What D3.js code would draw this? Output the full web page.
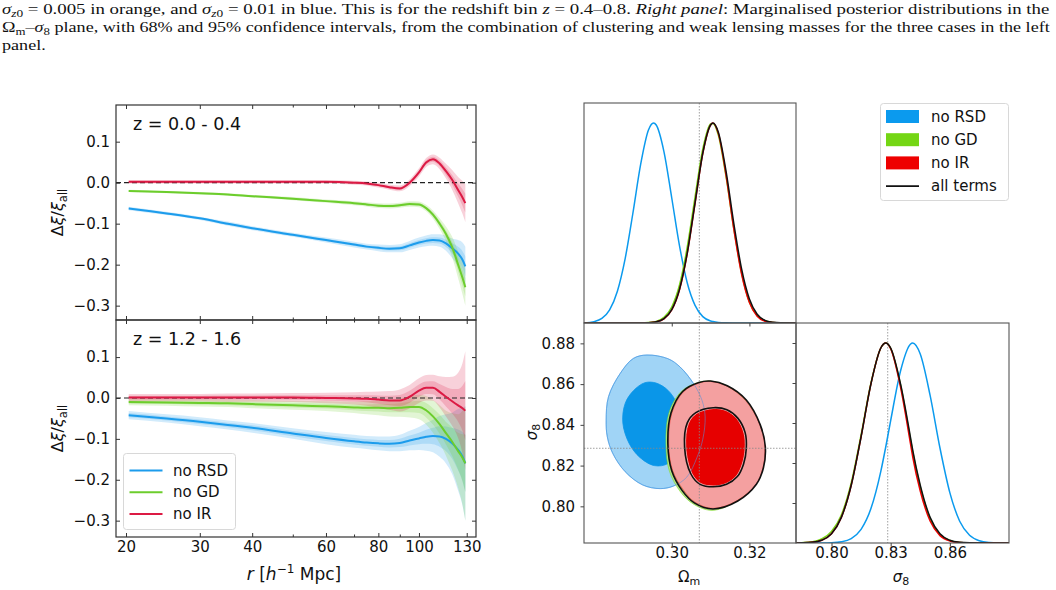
<!DOCTYPE html>
<html>
<head>
<meta charset="utf-8">
<script src="https://cdn.jsdelivr.net/npm/d3@7"></script>
<style>
  body { margin: 0; background: #fff; }
  svg { display: block; }
</style>
</head>
<body>
<div id="chart"></div>
<script>
// ---- left panels: fractional change of xi vs r ----
var rGrid = [20.3, 25, 30, 35, 40, 50, 60, 70, 75, 80, 85, 90, 95, 100, 104, 108, 112, 116, 120, 124, 127, 129];

var topBlue = [-0.063, -0.075, -0.087, -0.100, -0.111, -0.127, -0.140, -0.151, -0.156, -0.159, -0.161, -0.160, -0.153, -0.146, -0.142, -0.140, -0.141, -0.148, -0.160, -0.173, -0.188, -0.204];
var topBlueErr = [0.004, 0.004, 0.004, 0.005, 0.005, 0.005, 0.006, 0.007, 0.007, 0.008, 0.009, 0.010, 0.011, 0.012, 0.013, 0.014, 0.015, 0.018, 0.024, 0.033, 0.042, 0.048];
var topGreen = [-0.020, -0.023, -0.026, -0.029, -0.033, -0.039, -0.045, -0.050, -0.053, -0.056, -0.057, -0.055, -0.052, -0.053, -0.062, -0.078, -0.100, -0.125, -0.157, -0.200, -0.232, -0.255];
var topGreenErr = [0.003, 0.003, 0.003, 0.003, 0.003, 0.004, 0.004, 0.005, 0.005, 0.006, 0.006, 0.006, 0.007, 0.007, 0.008, 0.010, 0.013, 0.018, 0.025, 0.033, 0.040, 0.045];
var topRed = [0.002, 0.002, 0.002, 0.002, 0.002, 0.002, 0.002, 0.000, -0.002, -0.006, -0.011, -0.014, 0.000, 0.025, 0.049, 0.057, 0.047, 0.028, 0.007, -0.018, -0.036, -0.050];
var topRedErr = [0.004, 0.004, 0.004, 0.004, 0.004, 0.004, 0.004, 0.005, 0.005, 0.006, 0.006, 0.007, 0.008, 0.010, 0.011, 0.012, 0.014, 0.018, 0.024, 0.032, 0.040, 0.046];

var botBlue = [-0.042, -0.050, -0.058, -0.066, -0.073, -0.087, -0.098, -0.106, -0.109, -0.111, -0.112, -0.110, -0.104, -0.099, -0.095, -0.093, -0.094, -0.100, -0.111, -0.127, -0.143, -0.160];
var botBlueErr = [0.010, 0.010, 0.011, 0.011, 0.012, 0.013, 0.015, 0.016, 0.016, 0.017, 0.018, 0.020, 0.024, 0.028, 0.034, 0.040, 0.050, 0.060, 0.075, 0.100, 0.120, 0.140];
var botGreen = [-0.010, -0.011, -0.012, -0.013, -0.015, -0.018, -0.020, -0.023, -0.024, -0.024, -0.025, -0.024, -0.022, -0.022, -0.030, -0.045, -0.064, -0.086, -0.107, -0.130, -0.146, -0.160];
var botGreenErr = [0.008, 0.008, 0.009, 0.009, 0.010, 0.011, 0.012, 0.014, 0.016, 0.018, 0.020, 0.022, 0.026, 0.030, 0.035, 0.040, 0.047, 0.055, 0.070, 0.090, 0.115, 0.140];
var botRed = [0.001, 0.001, 0.001, 0.001, 0.001, 0.001, 0.000, -0.001, -0.002, -0.004, -0.006, -0.006, 0.003, 0.018, 0.025, 0.025, 0.015, 0.003, -0.008, -0.018, -0.025, -0.031];
var botRedErr = [0.009, 0.009, 0.009, 0.010, 0.010, 0.011, 0.013, 0.015, 0.017, 0.020, 0.023, 0.027, 0.029, 0.030, 0.031, 0.032, 0.038, 0.048, 0.060, 0.080, 0.110, 0.145];

var seriesNames = ['no RSD', 'no GD', 'no IR'];
var rTicks = [20, 30, 40, 60, 80, 100, 130];
var rMinorTicks = [50, 70, 90];
var dxiTicks = [-0.3, -0.2, -0.1, 0.0, 0.1];

// ---- right panels: posteriors ----
var omGrid = [0.2774, 0.280, 0.282, 0.284, 0.286, 0.288, 0.290, 0.292, 0.294, 0.2953, 0.296, 0.298, 0.300, 0.302, 0.304, 0.306, 0.308, 0.310, 0.3106, 0.312, 0.314, 0.316, 0.318, 0.320, 0.322, 0.324, 0.326, 0.328, 0.332];
var omRSD = [0.0003, 0.0069, 0.023, 0.066, 0.159, 0.322, 0.55, 0.794, 0.965, 1, 0.99, 0.856, 0.625, 0.386, 0.20, 0.088, 0.032, 0.010, 0.007, 0.0027, 0.0007, 0.0002, 0, 0, 0, 0, 0, 0, 0];
var omGD = [0, 0, 0, 0, 0, 0, 0.0001, 0.0004, 0.002, 0.005, 0.008, 0.028, 0.08, 0.19, 0.38, 0.63, 0.87, 0.995, 0.998, 0.94, 0.73, 0.47, 0.25, 0.105, 0.037, 0.011, 0.003, 0.0005, 0];
var omIR = [0, 0, 0, 0, 0, 0, 0, 0.0002, 0.0012, 0.0034, 0.0056, 0.021, 0.065, 0.166, 0.348, 0.598, 0.848, 0.99, 1, 0.948, 0.738, 0.468, 0.243, 0.102, 0.034, 0.009, 0.002, 0.0004, 0];
var omAll = [0, 0, 0, 0, 0, 0, 0, 0.0002, 0.0013, 0.0036, 0.0059, 0.022, 0.067, 0.169, 0.351, 0.601, 0.85, 0.99, 1, 0.954, 0.757, 0.496, 0.269, 0.12, 0.044, 0.0133, 0.0034, 0.0007, 0];

var s8Grid = [0.782, 0.785, 0.790, 0.795, 0.800, 0.805, 0.810, 0.815, 0.820, 0.825, 0.8275, 0.830, 0.835, 0.840, 0.8412, 0.845, 0.850, 0.855, 0.860, 0.865, 0.870, 0.875, 0.880, 0.885, 0.890];
var s8RSD = [0, 0, 0, 0.0002, 0.0013, 0.0059, 0.022, 0.068, 0.172, 0.358, 0.48, 0.612, 0.86, 0.994, 1, 0.945, 0.738, 0.475, 0.252, 0.109, 0.039, 0.0114, 0.0028, 0.0005, 0];
var s8GD = [0.0003, 0.0015, 0.006, 0.02, 0.058, 0.14, 0.30, 0.54, 0.80, 0.975, 1, 0.973, 0.79, 0.52, 0.455, 0.28, 0.122, 0.043, 0.013, 0.003, 0.0006, 0.0001, 0, 0, 0];
var s8IR = [0.0001, 0.0007, 0.0033, 0.0137, 0.046, 0.128, 0.289, 0.531, 0.796, 0.975, 1, 0.972, 0.78, 0.50, 0.43, 0.26, 0.11, 0.037, 0.01, 0.002, 0.0004, 0, 0, 0, 0];
var s8All = [0.0001, 0.0007, 0.0033, 0.0137, 0.046, 0.128, 0.289, 0.531, 0.796, 0.975, 1, 0.975, 0.796, 0.531, 0.463, 0.289, 0.128, 0.046, 0.0137, 0.0033, 0.0007, 0.0001, 0, 0, 0];

// contours, [Omega_m, sigma_8] points round the boundary
var rsd95 = [[0.2831, 0.8423], [0.2837, 0.8538], [0.2867, 0.8652], [0.2901, 0.8726], [0.2936, 0.8743], [0.2990, 0.8725], [0.3021, 0.8685], [0.3056, 0.8603], [0.3078, 0.8520], [0.3086, 0.8439], [0.3080, 0.8330], [0.3065, 0.8240], [0.3039, 0.8144], [0.3005, 0.8100], [0.2970, 0.8087], [0.2925, 0.8105], [0.2880, 0.8170], [0.2848, 0.8260], [0.2834, 0.8341]];
var rsd68 = [[0.2874, 0.8410], [0.2880, 0.8505], [0.2901, 0.8567], [0.2931, 0.8607], [0.2960, 0.8605], [0.2990, 0.8570], [0.3012, 0.8510], [0.3024, 0.8440], [0.3025, 0.8370], [0.3013, 0.8270], [0.2990, 0.8210], [0.2955, 0.8200], [0.2918, 0.8240], [0.2890, 0.8310]];
var gd95 = [[0.2985, 0.8300], [0.2993, 0.8460], [0.3025, 0.8565], [0.3068, 0.8608], [0.3099, 0.8615], [0.3142, 0.8592], [0.3190, 0.8520], [0.3226, 0.8400], [0.3238, 0.8292], [0.3232, 0.8190], [0.3214, 0.8108], [0.3165, 0.8023], [0.3104, 0.7980], [0.3055, 0.8012], [0.3022, 0.8072], [0.2994, 0.8172]];
var gd68 = [[0.3031, 0.8290], [0.3038, 0.8410], [0.3060, 0.8460], [0.3105, 0.8484], [0.3140, 0.8474], [0.3168, 0.8433], [0.3187, 0.8362], [0.3190, 0.8284], [0.3183, 0.8208], [0.3167, 0.8146], [0.3139, 0.8106], [0.3105, 0.8094], [0.3071, 0.8106], [0.3047, 0.8158]];
var ir95 = [[0.2992, 0.8308], [0.3000, 0.8456], [0.3030, 0.8562], [0.3070, 0.8605], [0.3099, 0.8613], [0.3142, 0.8590], [0.3190, 0.8520], [0.3227, 0.8400], [0.3240, 0.8292], [0.3235, 0.8190], [0.3218, 0.8111], [0.3170, 0.8030], [0.3107, 0.7990], [0.3060, 0.8020], [0.3030, 0.8080], [0.3002, 0.8177]];
var ir68 = [[0.3036, 0.8292], [0.3043, 0.8407], [0.3064, 0.8456], [0.3107, 0.8480], [0.3140, 0.8470], [0.3168, 0.8430], [0.3186, 0.8360], [0.3189, 0.8284], [0.3182, 0.8210], [0.3167, 0.8150], [0.3140, 0.8112], [0.3107, 0.8100], [0.3075, 0.8112], [0.3052, 0.8161]];
var all95 = [[0.2990, 0.8305], [0.2998, 0.8458], [0.3028, 0.8564], [0.3070, 0.8608], [0.3100, 0.8615], [0.3143, 0.8592], [0.3192, 0.8522], [0.3228, 0.8400], [0.3241, 0.8292], [0.3236, 0.8188], [0.3218, 0.8108], [0.3170, 0.8026], [0.3106, 0.7987], [0.3058, 0.8017], [0.3027, 0.8077], [0.3000, 0.8175]];
var all68 = [[0.3033, 0.8292], [0.3040, 0.8410], [0.3062, 0.8460], [0.3107, 0.8484], [0.3142, 0.8474], [0.3170, 0.8433], [0.3189, 0.8362], [0.3192, 0.8284], [0.3185, 0.8208], [0.3169, 0.8146], [0.3141, 0.8108], [0.3107, 0.8096], [0.3073, 0.8108], [0.3049, 0.8160]];

var omFid = 0.3071, s8Fid = 0.8285;
var omTicks = [0.30, 0.32];
var s8Ticks = [0.80, 0.82, 0.84, 0.86, 0.88];
var s8xTicks = [0.80, 0.83, 0.86];
var legendNames = ['no RSD', 'no GD', 'no IR', 'all terms'];

(function() {
  var svg, font, tickFont, lineCols, xL, yTop, yBot, xOm, yS8, xS8, dOm, dS8;

  font = 'DejaVu Sans, sans-serif';
  tickFont = 15;
  lineCols = ['#1c9cec', '#6ccd2c', '#dc1a44'];

  svg = d3.select('#chart').append('svg')
    .attr('width', 1056)
    .attr('height', 590);

  // ---- caption: each full line stretched to the column width ----
  var caption = [
    [['σ', 'i'], ['z', 'isub'], ['0', 'sub'], [' = 0.005 in orange, and ', 'n'], ['σ', 'i'], ['z', 'isub'], ['0', 'sub'],
     [' = 0.01 in blue. This is for the redshift bin ', 'n'], ['z', 'i'], [' = 0.4–0.8. ', 'n'], ['Right panel', 'i'],
     [': Marginalised posterior distributions in the', 'n']],
    [['Ω', 'n'], ['m', 'sub'], ['–', 'n'], ['σ', 'i'], ['8', 'sub'],
     [' plane, with 68% and 95% confidence intervals, from the combination of clustering and weak lensing masses for the three cases in the left', 'n']],
    [['panel.', 'n']]
  ];
  var capY = [13.5, 31.5, 49.5];
  var lastStretch = 1.2;
  caption.forEach(function(line, i) {
    var t = svg.append('text')
      .attr('font-family', 'Liberation Serif, Times New Roman, serif')
      .attr('font-size', 15.5)
      .attr('fill', '#111');
    var shift = 0;
    line.forEach(function(seg) {
      var sub = seg[1] === 'sub' || seg[1] === 'isub';
      var want = sub ? 3.5 : 0;
      var ts = t.append('tspan').text(seg[0])
        .attr('dy', want - shift);
      shift = want;
      if (seg[1] === 'i' || seg[1] === 'isub') ts.attr('font-style', 'italic');
      if (sub) ts.attr('font-size', 11);
    });
    var s = lastStretch;
    if (i < 2) {
      s = 1048 / t.node().getComputedTextLength();
      lastStretch = s;
    }
    t.attr('transform', 'translate(2,' + capY[i] + ') scale(' + s + ',1)');
  });

  // ---- left panels ----
  xL = d3.scaleLog().domain([18.93, 136.8]).range([116, 476]);
  yTop = d3.scaleLinear().domain([-0.335, 0.1895]).range([320, 105]);
  yBot = d3.scaleLinear().domain([-0.34, 0.1907]).range([537, 320]);

  var panels = [
    {y: yTop, label: 'z = 0.0 - 0.4', series: [[topBlue, topBlueErr], [topGreen, topGreenErr], [topRed, topRedErr]], bottom: false},
    {y: yBot, label: 'z = 1.2 - 1.6', series: [[botBlue, botBlueErr], [botGreen, botGreenErr], [botRed, botRedErr]], bottom: true}
  ];

  panels.forEach(function(p, pi) {
    var y = p.y;
    var y0 = y.range()[1], y1 = y.range()[0];
    var clipId = 'clipL' + pi;
    svg.append('clipPath').attr('id', clipId).append('rect')
      .attr('x', 116).attr('y', y0).attr('width', 360).attr('height', y1 - y0);
    var g = svg.append('g').attr('clip-path', 'url(#' + clipId + ')');

    p.series.forEach(function(s, si) {
      var pts = rGrid.map(function(r, k) { return {r: r, v: s[0][k], e: s[1][k]}; });
      [1, 0.5].forEach(function(f) {
        g.append('path').datum(pts)
          .attr('d', d3.area()
            .x(function(d) { return xL(d.r); })
            .y0(function(d) { return y(d.v - f * d.e); })
            .y1(function(d) { return y(d.v + f * d.e); })
            .curve(d3.curveMonotoneX))
          .attr('fill', lineCols[si])
          .attr('fill-opacity', 0.2)
          .attr('stroke', 'none');
      });
    });

    g.append('line')
      .attr('x1', 116).attr('x2', 476)
      .attr('y1', y(0)).attr('y2', y(0))
      .attr('stroke', '#222').attr('stroke-width', 1.2)
      .attr('stroke-dasharray', '5,3');

    p.series.forEach(function(s, si) {
      var pts = rGrid.map(function(r, k) { return {r: r, v: s[0][k]}; });
      g.append('path').datum(pts)
        .attr('d', d3.line()
          .x(function(d) { return xL(d.r); })
          .y(function(d) { return y(d.v); })
          .curve(d3.curveMonotoneX))
        .attr('fill', 'none')
        .attr('stroke', lineCols[si])
        .attr('stroke-width', 2);
    });

    // axes, ticks pointing in
    var ax = svg.append('g');
    ax.append('g').attr('transform', 'translate(116,0)')
      .call(d3.axisLeft(y).tickValues(dxiTicks).tickSizeInner(-4).tickSizeOuter(0).tickPadding(6).tickFormat(d3.format('.1f')));
    ax.append('g').attr('transform', 'translate(476,0)')
      .call(d3.axisRight(y).tickValues(dxiTicks).tickSizeInner(-4).tickSizeOuter(0).tickFormat(''));
    ax.append('g').attr('transform', 'translate(0,' + y0 + ')')
      .call(d3.axisTop(xL).tickValues(rTicks).tickSizeInner(-4).tickSizeOuter(0).tickFormat(''));
    ax.append('g').attr('transform', 'translate(0,' + y0 + ')')
      .call(d3.axisTop(xL).tickValues(rMinorTicks).tickSizeInner(-2.5).tickSizeOuter(0).tickFormat(''));
    ax.append('g').attr('transform', 'translate(0,' + y1 + ')')
      .call(d3.axisBottom(xL).tickValues(rTicks).tickSizeInner(-4).tickSizeOuter(0).tickPadding(4)
        .tickFormat(p.bottom ? d3.format('d') : ''));
    ax.append('g').attr('transform', 'translate(0,' + y1 + ')')
      .call(d3.axisBottom(xL).tickValues(rMinorTicks).tickSizeInner(-2.5).tickSizeOuter(0).tickFormat(''));
    ax.selectAll('.domain').remove();
    ax.selectAll('.tick line').attr('stroke', '#333');
    ax.selectAll('.tick text')
      .attr('fill', '#111')
      .attr('font-family', font)
      .attr('font-size', tickFont);

    svg.append('rect')
      .attr('x', 116).attr('y', y0).attr('width', 360).attr('height', y1 - y0)
      .attr('fill', 'none').attr('stroke', '#333').attr('stroke-width', 1.2);

    svg.append('text')
      .attr('x', 133).attr('y', y0 + 25)
      .attr('font-family', font).attr('font-size', 17.5)
      .attr('fill', '#111')
      .text(p.label);

    var yl = svg.append('text')
      .attr('transform', 'translate(63,' + ((y0 + y1) / 2) + ') rotate(-90)')
      .attr('text-anchor', 'middle')
      .attr('font-family', font).attr('font-size', 16).attr('fill', '#111');
    yl.append('tspan').text('Δ');
    yl.append('tspan').text('ξ').attr('font-style', 'italic');
    yl.append('tspan').text('/');
    yl.append('tspan').text('ξ').attr('font-style', 'italic');
    yl.append('tspan').text('all').attr('font-size', 11.5).attr('dy', 4);
  });

  // x label left
  var xl = svg.append('text')
    .attr('x', 294).attr('y', 580)
    .attr('text-anchor', 'middle')
    .attr('font-family', font).attr('font-size', 17).attr('fill', '#111');
  xl.append('tspan').text('r').attr('font-style', 'italic');
  xl.append('tspan').text(' [');
  xl.append('tspan').text('h').attr('font-style', 'italic');
  xl.append('tspan').text('−1').attr('font-size', 12).attr('dy', -7);
  xl.append('tspan').text(' Mpc]').attr('dy', 7);

  // left legend
  var lg = svg.append('g');
  lg.append('rect')
    .attr('x', 123.5).attr('y', 453.5).attr('width', 112).attr('height', 76).attr('rx', 3)
    .attr('fill', '#fff').attr('fill-opacity', 0.8)
    .attr('stroke', '#d8d8d8');
  seriesNames.forEach(function(n, i) {
    var yy = 470.5 + i * 21.7;
    lg.append('line')
      .attr('x1', 129.5).attr('x2', 162.5).attr('y1', yy).attr('y2', yy)
      .attr('stroke', lineCols[i]).attr('stroke-width', 2);
    lg.append('text')
      .attr('x', 173).attr('y', yy).attr('dy', '0.35em')
      .attr('font-family', font).attr('font-size', 15).attr('fill', '#111')
      .text(n);
  });

  // ---- right panels ----
  var fills95 = ['#a0d4f6', '#b2e68a', '#f4a0a0'];
  var fills68 = ['#0a96e8', '#74d61a', '#e60000'];
  var solid = ['#0b9aee', '#74d614', '#ee0000', '#111'];

  xOm = d3.scaleLinear().domain([0.2774, 0.332]).range([584, 796]);
  yS8 = d3.scaleLinear().domain([0.782, 0.890]).range([543, 323]);
  xS8 = d3.scaleLinear().domain([0.782, 0.890]).range([796, 1009]);
  dOm = d3.scaleLinear().domain([0, 1.1]).range([323, 103]);
  dS8 = d3.scaleLinear().domain([0, 1.1]).range([543, 323]);

  function frame(x, y, w, h, id) {
    svg.append('clipPath').attr('id', id).append('rect')
      .attr('x', x).attr('y', y).attr('width', w).attr('height', h);
    return svg.append('g').attr('clip-path', 'url(#' + id + ')');
  }
  function border(x, y, w, h) {
    svg.append('rect')
      .attr('x', x).attr('y', y).attr('width', w).attr('height', h)
      .attr('fill', 'none').attr('stroke', '#555').attr('stroke-width', 1.1);
  }
  function fidLine(g, x1, y1, x2, y2) {
    g.append('line')
      .attr('x1', x1).attr('y1', y1).attr('x2', x2).attr('y2', y2)
      .attr('stroke', '#888').attr('stroke-width', 0.8)
      .attr('stroke-dasharray', '1.5,1.5');
  }

  // top-left: Omega_m 1D
  var gA = frame(584, 103, 212, 220, 'clipA');
  fidLine(gA, xOm(omFid), 103, xOm(omFid), 323);
  [omRSD, omGD, omIR, omAll].forEach(function(arr, i) {
    gA.append('path').datum(omGrid.map(function(o, k) { return [o, arr[k]]; }))
      .attr('d', d3.line()
        .x(function(d) { return xOm(d[0]); })
        .y(function(d) { return dOm(d[1]); })
        .curve(d3.curveMonotoneX))
      .attr('fill', 'none').attr('stroke', solid[i]).attr('stroke-width', 1.5);
  });
  border(584, 103, 212, 220);

  // bottom-left: 2D contours
  var gB = frame(584, 323, 212, 220, 'clipB');
  var closed = d3.line()
    .x(function(d) { return xOm(d[0]); })
    .y(function(d) { return yS8(d[1]); })
    .curve(d3.curveCatmullRomClosed);
  [[rsd95, rsd68], [gd95, gd68], [ir95, ir68]].forEach(function(c, i) {
    gB.append('path').attr('d', closed(c[0]))
      .attr('fill', fills95[i]).attr('stroke', solid[i]).attr('stroke-width', 0.8).attr('stroke-opacity', 0.6);
    gB.append('path').attr('d', closed(c[1]))
      .attr('fill', fills68[i]).attr('stroke', i === 2 ? '#f4c0c0' : fills68[i]).attr('stroke-width', 0.8);
  });
  gB.append('path').attr('d', closed(rsd95))
    .attr('fill', 'none').attr('stroke', '#5a8fd8').attr('stroke-width', 1).attr('stroke-opacity', 0.55);
  [all95, all68].forEach(function(c) {
    gB.append('path').attr('d', closed(c))
      .attr('fill', 'none').attr('stroke', '#111').attr('stroke-width', 1.6);
  });
  fidLine(gB, xOm(omFid), 323, xOm(omFid), 543);
  fidLine(gB, 584, yS8(s8Fid), 796, yS8(s8Fid));
  border(584, 323, 212, 220);

  // bottom-right: sigma_8 1D
  var gC = frame(796, 323, 213, 220, 'clipC');
  fidLine(gC, xS8(s8Fid), 323, xS8(s8Fid), 543);
  [s8RSD, s8GD, s8IR, s8All].forEach(function(arr, i) {
    gC.append('path').datum(s8Grid.map(function(s, k) { return [s, arr[k]]; }))
      .attr('d', d3.line()
        .x(function(d) { return xS8(d[0]); })
        .y(function(d) { return dS8(d[1]); })
        .curve(d3.curveMonotoneX))
      .attr('fill', 'none').attr('stroke', solid[i]).attr('stroke-width', 1.5);
  });
  border(796, 323, 213, 220);

  // right axes (ticks pointing out)
  var rax = svg.append('g');
  rax.append('g').attr('transform', 'translate(0,323)')
    .call(d3.axisBottom(xOm).tickValues(omTicks).tickSizeInner(3.5).tickSizeOuter(0).tickFormat(''));
  rax.append('g').attr('transform', 'translate(0,543)')
    .call(d3.axisBottom(xOm).tickValues(omTicks).tickSizeInner(3.5).tickSizeOuter(0).tickPadding(1).tickFormat(d3.format('.2f')));
  rax.append('g').attr('transform', 'translate(584,0)')
    .call(d3.axisLeft(yS8).tickValues(s8Ticks).tickSizeInner(3.5).tickSizeOuter(0).tickPadding(5.5).tickFormat(d3.format('.2f')));
  rax.append('g').attr('transform', 'translate(0,543)')
    .call(d3.axisBottom(xS8).tickValues(s8xTicks).tickSizeInner(3.5).tickSizeOuter(0).tickPadding(1).tickFormat(d3.format('.2f')));
  rax.append('g').attr('transform', 'translate(796,0)')
    .call(d3.axisLeft(dS8).tickValues([0.2, 0.4, 0.6, 0.8, 1.0]).tickSizeInner(3.5).tickSizeOuter(0).tickFormat(''));
  rax.selectAll('.domain').remove();
  rax.selectAll('.tick line').attr('stroke', '#444');
  rax.selectAll('.tick text')
    .attr('fill', '#111')
    .attr('font-family', font)
    .attr('font-size', tickFont);

  var om = svg.append('text').attr('x', 689).attr('y', 582).attr('text-anchor', 'middle')
    .attr('font-family', font).attr('font-size', 15).attr('fill', '#111');
  om.append('tspan').text('Ω');
  om.append('tspan').text('m').attr('font-size', 11).attr('dy', 3);
  var s8x = svg.append('text').attr('x', 901).attr('y', 582).attr('text-anchor', 'middle')
    .attr('font-family', font).attr('font-size', 15).attr('fill', '#111');
  s8x.append('tspan').text('σ').attr('font-style', 'italic');
  s8x.append('tspan').text('8').attr('font-size', 11).attr('dy', 3);
  var s8y = svg.append('text').attr('transform', 'translate(537,432) rotate(-90)').attr('text-anchor', 'middle')
    .attr('font-family', font).attr('font-size', 15).attr('fill', '#111');
  s8y.append('tspan').text('σ').attr('font-style', 'italic');
  s8y.append('tspan').text('8').attr('font-size', 11).attr('dy', 3);

  // right legend
  var rl = svg.append('g');
  rl.append('rect')
    .attr('x', 880.5).attr('y', 103.5).attr('width', 128).attr('height', 97).attr('rx', 3)
    .attr('fill', '#fff').attr('stroke', '#d8d8d8');
  legendNames.forEach(function(n, i) {
    var yy = 116.5 + i * 23.2;
    if (i < 3) {
      rl.append('rect')
        .attr('x', 886).attr('y', yy - 6.5).attr('width', 33).attr('height', 13)
        .attr('fill', solid[i]);
    } else {
      rl.append('line')
        .attr('x1', 886).attr('x2', 919).attr('y1', yy).attr('y2', yy)
        .attr('stroke', '#111').attr('stroke-width', 1.6);
    }
    rl.append('text')
      .attr('x', 931).attr('y', yy).attr('dy', '0.35em')
      .attr('font-family', font).attr('font-size', 15).attr('fill', '#111')
      .text(n);
  });
}).call(this);
</script>
</body>
</html>
